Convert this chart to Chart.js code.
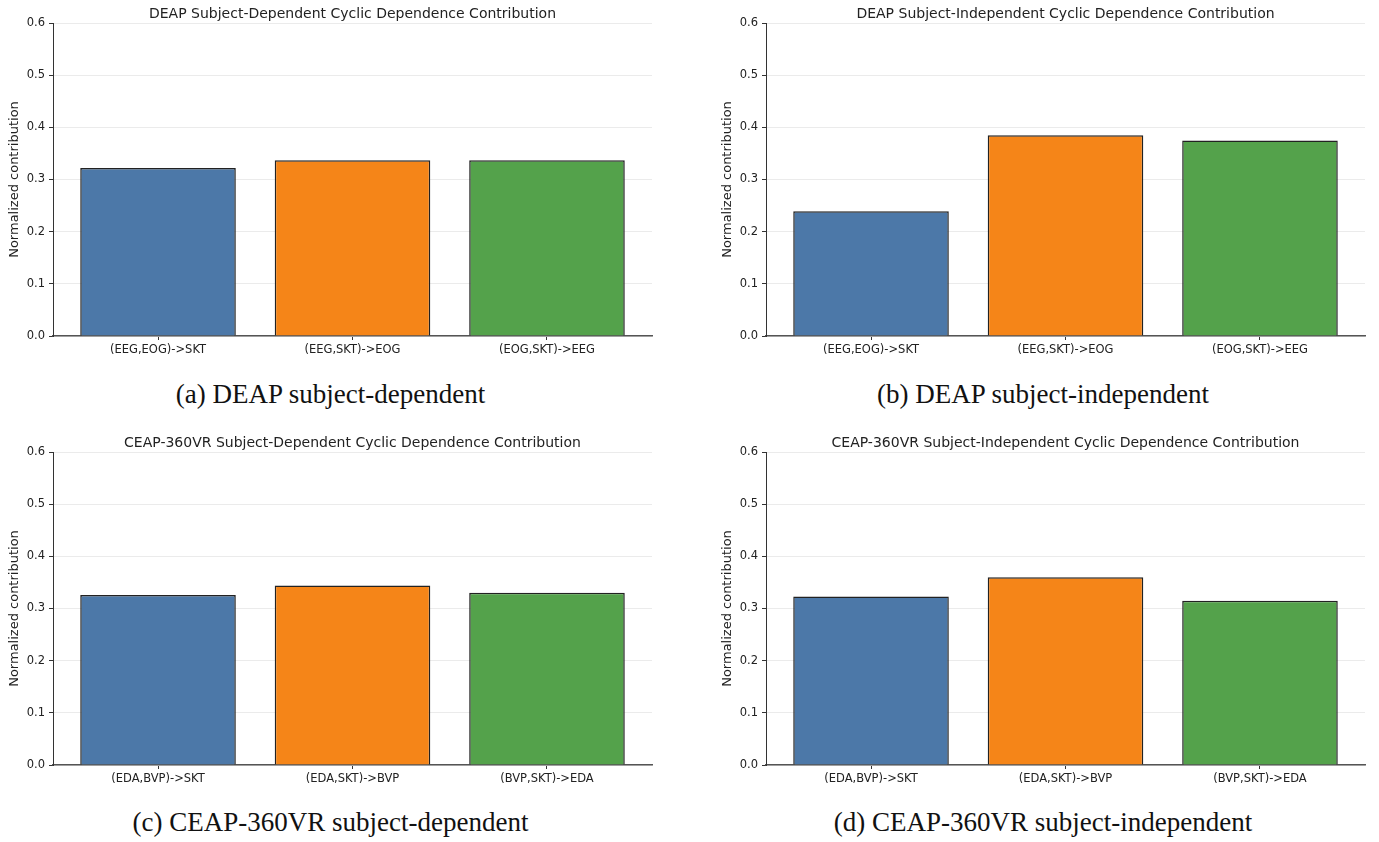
<!DOCTYPE html>
<html>
<head>
<meta charset="utf-8">
<script src="https://cdn.jsdelivr.net/npm/chart.js@4.4.0/dist/chart.umd.min.js"></script>
<style>
  body { margin: 0; background: #fff; width: 1379px; height: 842px; position: relative; overflow: hidden; }
  .box { position: absolute; }
  .cap { position: absolute; text-align: center; font-family: "Liberation Serif", "Times New Roman", serif;
         font-size: 27px; line-height: 30px; color: #111; white-space: nowrap; }
</style>
</head>
<body>
<div class="box" style="left:0;top:0;width:690px;height:364px"><canvas id="chartA"></canvas></div>
<div class="box" style="left:690px;top:0;width:689px;height:364px"><canvas id="chartB"></canvas></div>
<div class="box" style="left:0;top:429px;width:690px;height:364px"><canvas id="chartC"></canvas></div>
<div class="box" style="left:690px;top:429px;width:689px;height:364px"><canvas id="chartD"></canvas></div>

<div class="cap" style="left:0;top:379px;width:661px">(a) DEAP subject-dependent</div>
<div class="cap" style="left:713px;top:379px;width:660px">(b) DEAP subject-independent</div>
<div class="cap" style="left:0;top:807px;width:661px">(c) CEAP-360VR subject-dependent</div>
<div class="cap" style="left:713px;top:807px;width:660px">(d) CEAP-360VR subject-independent</div>

<script>
// data
const deapLabels = ["(EEG,EOG)->SKT", "(EEG,SKT)->EOG", "(EOG,SKT)->EEG"];
const ceapLabels = ["(EDA,BVP)->SKT", "(EDA,SKT)->BVP", "(BVP,SKT)->EDA"];
const deapDependent = [0.322, 0.337, 0.337];
const deapIndependent = [0.239, 0.385, 0.375];
const ceapDependent = [0.326, 0.344, 0.330];
const ceapIndependent = [0.323, 0.360, 0.315];
const barColors = ["#4C78A8", "#F58518", "#54A24B"];
const yMax = 0.6;
const yStep = 0.1;

const FONT = "'DejaVu Sans', sans-serif";

function makeChart(id, title, labels, values, padLeft, padRight) {
  return new Chart(document.getElementById(id), {
    type: 'bar',
    data: {
      datasets: [{
        data: values.map((v, i) => ({ x: i, y: v })),
        backgroundColor: barColors,
        borderColor: "#222",
        borderWidth: 1.5,
        categoryPercentage: 1.0,
        barPercentage: 0.8
      }]
    },
    options: {
      responsive: true,
      maintainAspectRatio: false,
      animation: false,
      layout: { padding: { left: padLeft, right: padRight, top: 0, bottom: 0 } },
      plugins: {
        legend: { display: false },
        tooltip: { enabled: false },
        title: {
          display: true,
          text: title,
          fullSize: false,
          color: "#222",
          font: { family: FONT, size: 14, weight: 'normal' },
          padding: { top: 5.5, bottom: 0.7 }
        }
      },
      scales: {
        x: {
          type: 'linear',
          offset: false,
          min: -0.54,
          max: labels.length - 1 + 0.54,
          afterBuildTicks: axis => { axis.ticks = labels.map((_, i) => ({ value: i })); },
          afterFit: scale => { scale.height = 28; },
          ticks: {
            callback: v => labels[v],
            color: "#222",
            font: { family: FONT, size: 11.5 },
            maxRotation: 0,
            autoSkip: false,
            padding: 3
          },
          grid: { offset: false, drawOnChartArea: false, tickLength: 4, tickColor: "#333" },
          border: { display: true, color: "#555", width: 1.5 }
        },
        y: {
          min: 0,
          max: yMax,
          afterFit: scale => { scale.width = 53; },
          ticks: {
            stepSize: yStep,
            callback: v => v.toFixed(1),
            color: "#222",
            font: { family: FONT, size: 11.5 },
            padding: 4
          },
          grid: { color: "#ebebeb", lineWidth: 1, tickLength: 4, tickColor: "#333" },
          border: { display: true, color: "#333", width: 1 },
          title: {
            display: true,
            text: "Normalized contribution",
            color: "#222",
            font: { family: FONT, size: 13 },
            padding: { top: 7, bottom: 4 }
          }
        }
      }
    }
  });
}

makeChart("chartA", "DEAP Subject-Dependent Cyclic Dependence Contribution", deapLabels, deapDependent, 0, 38);
makeChart("chartB", "DEAP Subject-Independent Cyclic Dependence Contribution", deapLabels, deapIndependent, 23, 14);
makeChart("chartC", "CEAP-360VR Subject-Dependent Cyclic Dependence Contribution", ceapLabels, ceapDependent, 0, 38);
makeChart("chartD", "CEAP-360VR Subject-Independent Cyclic Dependence Contribution", ceapLabels, ceapIndependent, 23, 14);
</script>
</body>
</html>
